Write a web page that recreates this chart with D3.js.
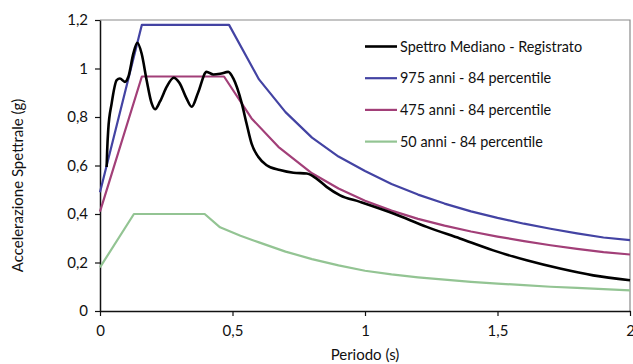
<!DOCTYPE html>
<html>
<head>
<meta charset="utf-8">
<script src="https://cdn.jsdelivr.net/npm/d3@7"></script>
<style>
  html, body { margin: 0; padding: 0; background: #fff; }
  svg { display: block; }
  text { font-family: Lato, "Open Sans", sans-serif; fill: #111; }
</style>
</head>
<body>
<svg id="chart" width="633" height="364"></svg>
<script>
// Response spectra: period (s) vs spectral acceleration (g)
const xTicks = [0, 0.5, 1, 1.5, 2];
const yTicks = [0, 0.2, 0.4, 0.6, 0.8, 1, 1.2];

const seriesNames = [
  "Spettro Mediano - Registrato",
  "975 anni - 84 percentile",
  "475 anni - 84 percentile",
  "50 anni - 84 percentile"
];
const seriesColors = ["#000000", "#4343a3", "#a23f78", "#93c493"];

// recorded median spectrum
const medianT = [0.025, 0.027, 0.031, 0.044, 0.063, 0.075, 0.094, 0.107, 0.126, 0.141, 0.157,
  0.176, 0.195, 0.208, 0.226, 0.252, 0.278, 0.3, 0.325, 0.346, 0.37, 0.402, 0.428, 0.453,
  0.484, 0.503, 0.535, 0.553, 0.572, 0.597, 0.629, 0.679, 0.73, 0.78, 0.817, 0.855, 0.906,
  0.981, 1.107, 1.233, 1.358, 1.484, 1.61, 1.736, 1.861, 2.0];
const medianSa = [0.594, 0.66, 0.746, 0.856, 0.952, 0.959, 0.945, 0.966, 1.062, 1.106, 1.062,
  0.952, 0.856, 0.832, 0.863, 0.925, 0.962, 0.94, 0.88, 0.842, 0.9, 0.986, 0.975, 0.978,
  0.986, 0.959, 0.856, 0.773, 0.69, 0.636, 0.601, 0.581, 0.57, 0.567, 0.546, 0.512, 0.477,
  0.45, 0.402, 0.347, 0.299, 0.25, 0.209, 0.175, 0.147, 0.127];

// 975-year return period, 84th percentile
const rp975T = [0, 0.158, 0.487, 0.6, 0.7, 0.8, 0.9, 1.0, 1.1, 1.2, 1.3, 1.4, 1.5, 1.6, 1.7, 1.8, 1.9, 2.0];
const rp975Sa = [0.49, 1.18, 1.18, 0.955, 0.82, 0.715, 0.637, 0.577, 0.524, 0.48, 0.443, 0.411, 0.384, 0.36, 0.339, 0.32, 0.303, 0.292];

// 475-year return period, 84th percentile
const rp475T = [0, 0.158, 0.468, 0.572, 0.673, 0.8, 0.9, 1.0, 1.1, 1.2, 1.3, 1.4, 1.5, 1.6, 1.7, 1.8, 1.9, 2.0];
const rp475Sa = [0.41, 0.967, 0.967, 0.794, 0.677, 0.568, 0.505, 0.455, 0.414, 0.38, 0.352, 0.328, 0.307, 0.288, 0.271, 0.256, 0.243, 0.233];

// 50-year return period, 84th percentile
const rp50T = [0, 0.128, 0.395, 0.453, 0.53, 0.6, 0.7, 0.8, 0.9, 1.0, 1.1, 1.2, 1.3, 1.4, 1.5, 1.6, 1.7, 1.8, 1.9, 2.0];
const rp50Sa = [0.18, 0.40, 0.40, 0.345, 0.31, 0.283, 0.245, 0.214, 0.188, 0.166, 0.151, 0.139, 0.129, 0.12, 0.113, 0.107, 0.1, 0.095, 0.09, 0.085];

const svg = d3.select("#chart");
const m = { left: 100, right: 3, top: 20, bottom: 53 };
const W = 633, H = 364;

const x = d3.scaleLinear().domain([0, 2]).range([m.left, W - m.right]);
const y = d3.scaleLinear().domain([0, 1.2]).range([H - m.bottom, m.top]);

const fmt = d => String(d).replace(".", ",");

// frame: grey top and right edges
svg.append("path")
  .attr("d", `M${x(0)},${y(1.2)}H${x(2)}V${y(0)}`)
  .attr("fill", "none").attr("stroke", "#8a8a8a").attr("stroke-width", 1.2);

// axes
const gx = svg.append("g").attr("transform", `translate(0,${y(0)})`)
  .call(d3.axisBottom(x).tickValues(xTicks).tickFormat(fmt).tickSize(5).tickSizeOuter(0));
const gy = svg.append("g").attr("transform", `translate(${x(0)},0)`)
  .call(d3.axisLeft(y).tickValues(yTicks).tickFormat(fmt).tickSize(5).tickSizeOuter(0));

[gx, gy].forEach(g => {
  g.select(".domain").attr("stroke", "#111").attr("stroke-width", 1.5);
  g.selectAll(".tick line").attr("stroke", "#111").attr("stroke-width", 1.2);
  g.selectAll(".tick text").style("font-family", "Lato, sans-serif").style("font-size", "15px").attr("fill", "#111");
});
gx.selectAll(".tick text").attr("dy", "1.05em").attr("y", 9);
gy.selectAll(".tick text").attr("x", -12);

// axis titles
svg.append("text")
  .attr("x", x(1)).attr("y", 360)
  .attr("text-anchor", "middle").style("font-size", "15px")
  .text("Periodo (s)");
svg.append("text")
  .attr("transform", `translate(23,${(y(0) + y(1.2)) / 2 + 20}) rotate(-90)`)
  .attr("text-anchor", "middle").style("font-size", "15px")
  .text("Accelerazione Spettrale (g)");

const zip = (ts, vs) => ts.map((t, i) => [t, vs[i]]);
const lineLin = d3.line().x(d => x(d[0])).y(d => y(d[1]));
const lineSmooth = d3.line().x(d => x(d[0])).y(d => y(d[1])).curve(d3.curveMonotoneX);

const series = [
  { pts: zip(rp50T, rp50Sa), color: seriesColors[3], w: 2.2, gen: lineLin },
  { pts: zip(rp475T, rp475Sa), color: seriesColors[2], w: 2.2, gen: lineLin },
  { pts: zip(rp975T, rp975Sa), color: seriesColors[1], w: 2.2, gen: lineLin },
  { pts: zip(medianT, medianSa), color: seriesColors[0], w: 2.6, gen: lineSmooth }
];

svg.append("g").selectAll("path").data(series).join("path")
  .attr("d", d => d.gen(d.pts))
  .attr("fill", "none")
  .attr("stroke", d => d.color)
  .attr("stroke-width", d => d.w)
  .attr("stroke-linejoin", "round");

// legend
const lg = svg.append("g");
seriesNames.forEach((name, i) => {
  const yy = 46.5 + i * 31.7;
  lg.append("line")
    .attr("x1", 365).attr("x2", 397).attr("y1", yy).attr("y2", yy)
    .attr("stroke", seriesColors[i]).attr("stroke-width", i === 0 ? 2.6 : 2.2);
  lg.append("text")
    .attr("x", 400).attr("y", yy).attr("dy", "0.35em")
    .style("font-size", "14.4px")
    .text(name);
});
</script>
</body>
</html>
